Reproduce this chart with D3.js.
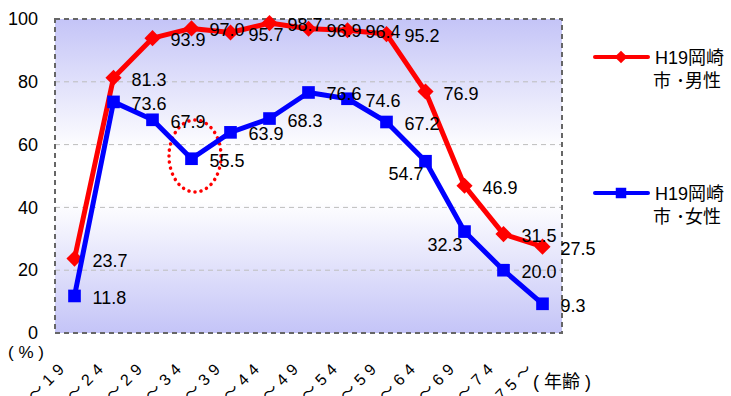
<!DOCTYPE html>
<html><head><meta charset="utf-8">
<script src="https://cdn.jsdelivr.net/npm/d3@7"></script>
<style>
body{margin:0;background:#fff;}
text{font-family:"Liberation Sans",Arial,"Noto Sans CJK JP",sans-serif;fill:#000;}
</style></head>
<body>
<svg id="c" width="731" height="396"></svg>
<script>
const categories = ["15～19","20～24","25～29","30～34","35～39","40～44","45～49","50～54","55～59","60～64","65～69","70～74","75～"];
const maleValues = [23.7,81.3,93.9,97.0,95.7,98.7,96.9,96.4,95.2,76.9,46.9,31.5,27.5];
const femaleValues = [11.8,73.6,67.9,55.5,63.9,68.3,76.6,74.6,67.2,54.7,32.3,20.0,9.3];
const yTicks = [0,20,40,60,80,100];
const maleName = ["H19岡崎","市 ･男性"];
const femaleName = ["H19岡崎","市 ･女性"];

const svg = d3.select("#c");
const L=55, R=562, T=19, B=333;
const x = d3.scaleBand().domain(categories).range([L,R]);
const y = d3.scaleLinear().domain([0,100]).range([B,T]);
const cx = d => x(d)+x.bandwidth()/2;

const defs = svg.append("defs");
const g = defs.append("linearGradient").attr("id","bg").attr("x1",0).attr("y1",0).attr("x2",0).attr("y2",1);
g.append("stop").attr("offset","0%").attr("stop-color","#c4c4f7");
g.append("stop").attr("offset","42%").attr("stop-color","#ffffff");
g.append("stop").attr("offset","58%").attr("stop-color","#ffffff");
g.append("stop").attr("offset","100%").attr("stop-color","#c4c4f7");

svg.append("rect").attr("x",L).attr("y",T).attr("width",R-L).attr("height",B-T).attr("fill","url(#bg)");

// gridlines
svg.append("g").selectAll("line").data(yTicks.filter(t=>t>0&&t<100)).join("line")
  .attr("x1",L).attr("x2",R).attr("y1",d=>y(d)).attr("y2",d=>y(d))
  .attr("stroke","#bdbdbd").attr("stroke-width",1).attr("stroke-dasharray","5,4");

// border
svg.append("rect").attr("x",L).attr("y",T).attr("width",R-L).attr("height",B-T)
  .attr("fill","none").attr("stroke","#666").attr("stroke-width",2).attr("stroke-dasharray","5,4");

// y axis labels
const yAxis = d3.axisLeft(y).tickValues(yTicks).tickSize(0).tickPadding(17).tickFormat(d3.format("d"));
const ya = svg.append("g").attr("transform",`translate(${L},0)`).call(yAxis);
ya.select(".domain").remove();
ya.selectAll("text").attr("font-size",18).attr("font-family","'Liberation Sans',Arial,sans-serif").attr("fill","#000");

// x axis labels
const xAxis = d3.axisBottom(x).tickSize(0).tickPadding(0);
const xa = svg.append("g").attr("transform",`translate(0,${B})`).call(xAxis);
xa.select(".domain").remove();
xa.selectAll("text").attr("font-size",16).attr("fill","#000").attr("text-anchor","end")
  .attr("letter-spacing","5px").attr("font-family","'Liberation Sans',Arial,'Noto Sans CJK JP',sans-serif")
  .attr("dy",0).attr("y",0).attr("x",0)
  .attr("transform","translate(-6,34) rotate(-45)");

svg.append("text").attr("x",8).attr("y",358).attr("font-size",17).text("( % )");
svg.append("text").attr("x",533).attr("y",388).attr("font-size",18).text("( 年齢 )");

// ellipse
svg.append("ellipse").attr("cx",195).attr("cy",156).attr("rx",26).attr("ry",36)
  .attr("fill","none").attr("stroke","#ff0000").attr("stroke-width",3.5)
  .attr("stroke-dasharray","0.1,6").attr("stroke-linecap","round");

const line = d3.line().x((d,i)=>cx(categories[i])).y(d=>y(d));

function drawSeries(vals,color,shape){
  svg.append("path").datum(vals).attr("d",line).attr("fill","none").attr("stroke",color).attr("stroke-width",5).attr("stroke-linejoin","round");
  const sym = shape==="diamond" ? d3.symbol().type(d3.symbolSquare).size(130) : d3.symbol().type(d3.symbolSquare).size(160);
  svg.append("g").selectAll("path").data(vals).join("path")
    .attr("d",sym)
    .attr("transform",(d,i)=>`translate(${cx(categories[i])},${y(d)})`+(shape==="diamond"?" rotate(45)":""))
    .attr("fill",color);
}
drawSeries(maleValues,"#ff0000","diamond");
drawSeries(femaleValues,"#0000ff","square");

// data labels
const fmt = d3.format(".1f");
function labels(vals,leftIdx){
  svg.append("g").selectAll("text").data(vals).join("text")
    .attr("x",(d,i)=> leftIdx.includes(i) ? cx(categories[i])-2 : cx(categories[i])+18)
    .attr("y",(d,i)=> leftIdx.includes(i) ? y(d)+19 : y(d)+8)
    .attr("text-anchor",(d,i)=> leftIdx.includes(i) ? "end":"start")
    .attr("font-size",18).text(d=>fmt(d));
}
labels(maleValues,[]);
labels(femaleValues,[9,10]);

// legend
function legend(yy,color,shape,name){
  svg.append("line").attr("x1",595).attr("x2",648).attr("y1",yy).attr("y2",yy).attr("stroke",color).attr("stroke-width",4).attr("stroke-linecap","round");
  const sym = d3.symbol().type(d3.symbolSquare).size(shape==="diamond"?80:110);
  svg.append("path").attr("d",sym).attr("transform",`translate(621,${yy})`+(shape==="diamond"?" rotate(45)":"")).attr("fill",color);
  svg.append("text").attr("x",655).attr("y",yy+7).attr("font-size",18).text(name[0]);
  svg.append("text").attr("x",653).attr("y",yy+30).attr("font-size",18).text(name[1]);
}
legend(57,"#ff0000","diamond",maleName);
legend(193,"#0000ff","square",femaleName);
</script>
</body></html>
